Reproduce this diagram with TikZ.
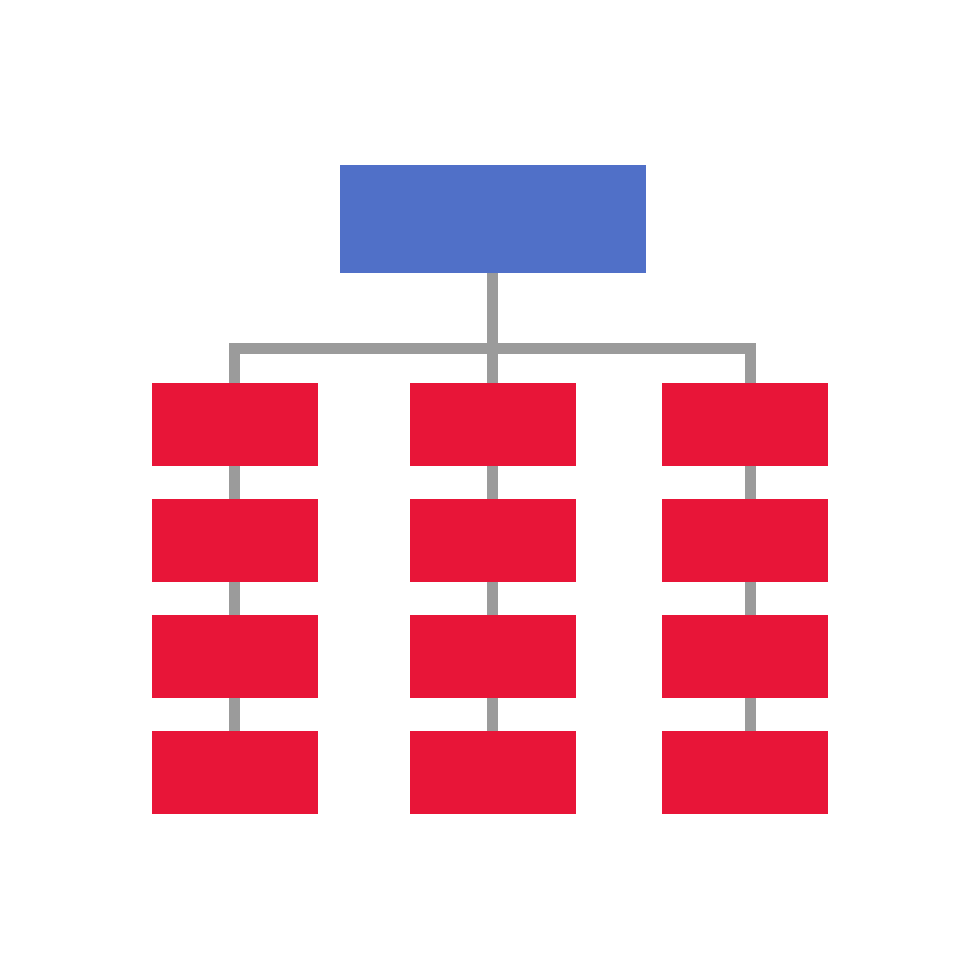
\documentclass[tikz,border=0pt]{standalone}
\usetikzlibrary{positioning}
\definecolor{headblue}{HTML}{5070C8}
\definecolor{itemred}{HTML}{E81538}
\definecolor{linkgray}{HTML}{9B9B9B}
\tikzset{
    %Define style for the top box
    head/.style={
           rectangle,
           fill=headblue,
           minimum width=3.06cm,
           minimum height=1.08cm,
           inner sep=0pt,
           outer sep=0pt},
    %Define style for the item boxes
    item/.style={
           rectangle,
           fill=itemred,
           minimum width=1.66cm,
           minimum height=0.835cm,
           inner sep=0pt,
           outer sep=0pt},
    % Define connector style
    link/.style={
           draw=linkgray,
           line width=0.11cm}
}
\begin{document}
\begin{tikzpicture}[node distance=0.325cm]
 \useasboundingbox (0,0) rectangle (9.8,9.8);
 %nodes
    \node[head] (top) at (4.93,7.61) {};
    \node[item] (aa) at (2.35,5.555) {};
    \node[item, below=of aa] (ab) {};
    \node[item, below=of ab] (ac) {};
    \node[item, below=of ac] (ad) {};
    \node[item] (ba) at (4.93,5.555) {};
    \node[item, below=of ba] (bb) {};
    \node[item, below=of bb] (bc) {};
    \node[item, below=of bc] (bd) {};
    \node[item] (ca) at (7.45,5.555) {};
    \node[item, below=of ca] (cb) {};
    \node[item, below=of cb] (cc) {};
    \node[item, below=of cc] (cd) {};
    \coordinate (split) at (4.93,6.315);
    \coordinate (lcorner) at (2.35,6.315);
    \coordinate (rcorner) at (7.505,6.315);
 %edges
    \draw[link] (top.south) -- (ba.north);
    \draw[link] ([xshift=-0.055cm]lcorner) -- ([xshift=0.055cm]rcorner);
    \draw[link] ([yshift=0.055cm]lcorner) -- (aa.north);
    \draw[link] ([yshift=0.055cm]rcorner) -- (rcorner |- ca.north);
    \draw[link] (aa) -- (ab);
    \draw[link] (ab) -- (ac);
    \draw[link] (ac) -- (ad);
    \draw[link] (ba) -- (bb);
    \draw[link] (bb) -- (bc);
    \draw[link] (bc) -- (bd);
    \draw[link] (rcorner |- ca.south) -- (rcorner |- cb.north);
    \draw[link] (rcorner |- cb.south) -- (rcorner |- cc.north);
    \draw[link] (rcorner |- cc.south) -- (rcorner |- cd.north);
\end{tikzpicture}
\end{document}
